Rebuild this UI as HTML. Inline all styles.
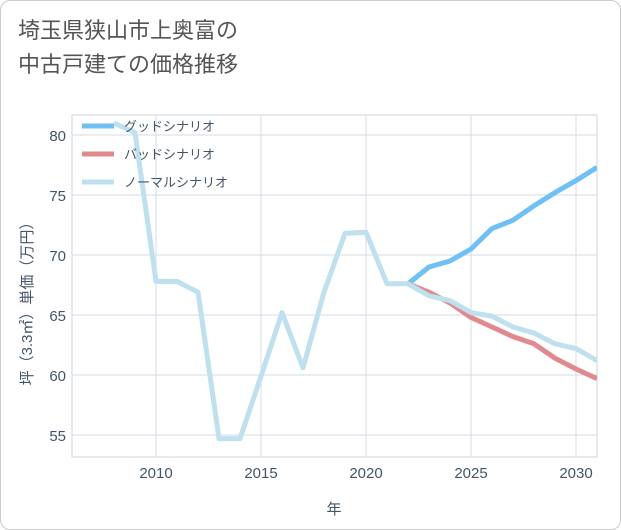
<!DOCTYPE html>
<html><head><meta charset="utf-8"><style>
body{margin:0;background:#fff;}
#wrap{position:relative;width:621px;height:530px;font-family:"Liberation Sans","Noto Sans CJK JP",sans-serif;}
#card{position:absolute;left:0;top:0;width:619px;height:528px;border:1px solid #ccc;border-radius:10px;background:#fff;}
#title{position:absolute;left:18px;top:14px;font-size:22px;line-height:34px;color:#555;}
</style></head><body>
<div id="wrap">
<div id="card"></div>
<div id="title">埼玉県狭山市上奥富の<br>中古戸建ての価格推移</div>
<svg id="chart" width="621" height="530" style="position:absolute;left:0;top:0"></svg>
</div>
<script>
const years=[2008,2009,2010,2011,2012,2013,2014,2015,2016,2017,2018,2019,2020,2021,2022,2023,2024,2025,2026,2027,2028,2029,2030,2031];
const normalVals=[81,80.2,67.8,67.8,66.9,54.7,54.7,59.9,65.2,60.6,66.9,71.8,71.9,67.6,67.6,66.6,66.2,65.2,64.9,64.0,63.5,62.6,62.2,61.2];
const futureYears=[2022,2023,2024,2025,2026,2027,2028,2029,2030,2031];
const goodVals=[67.6,69.0,69.5,70.5,72.2,72.9,74.1,75.2,76.2,77.3];
const badVals=[67.6,66.9,66.0,64.8,64.0,63.2,62.6,61.4,60.5,59.7];
const xTicks=[2010,2015,2020,2025,2030];
const yTicks=[55,60,65,70,75,80];
const legendLabels=["グッドシナリオ","バッドシナリオ","ノーマルシナリオ"];
const L=72,R=597,T=115,B=457;
const x=v=>L+(v-2006)*(R-L)/25;
const y=v=>135+(80-v)*12;
const svg=document.getElementById('chart');
const NS='http://www.w3.org/2000/svg';
function mk(t,a){const e=document.createElementNS(NS,t);for(const k in a)e.setAttribute(k,a[k]);svg.appendChild(e);return e;}
let e=mk('rect',{x:L,y:T,width:R-L,height:B-T,fill:'none',stroke:'#ccd4dc'});


xTicks.forEach(t=>{
 let g=mk('line',{x1:x(t),x2:x(t),y1:T,y2:B,stroke:'#d5dde5'});
 
 
 let l=mk('text',{x:x(t),y:478,'text-anchor':'middle','font-size':15,fill:'#445566'});l.textContent=t;
 
 
});
yTicks.forEach(t=>{
 let g=mk('line',{x1:L,x2:R,y1:y(t),y2:y(t),stroke:'#d5dde5'});
 
 
 let l=mk('text',{x:66,y:y(t)+6,'text-anchor':'end','font-size':15,fill:'#445566'});l.textContent=t;
 
 
});
let xt=mk('text',{x:334,y:514,'text-anchor':'middle','font-size':15,fill:'#445566'});xt.textContent='年';


let yt=mk('text',{x:0,y:0,'text-anchor':'middle','font-size':15,fill:'#445566',transform:'translate(32,300) rotate(-90)'});yt.textContent='坪（3.3㎡）単価（万円）';


const clip=mk('clipPath',{id:'c'});const cr=document.createElementNS(NS,'rect');
cr.setAttribute('x',L);cr.setAttribute('y',T);cr.setAttribute('width',R-L);cr.setAttribute('height',B-T);clip.appendChild(cr);
function line(xs,vs,col,name){
 let p=mk('polyline',{points:xs.map((v,i)=>x(v)+','+y(vs[i])).join(' '),fill:'none',stroke:col,'stroke-width':5,'stroke-linejoin':'round','clip-path':'url(#c)'});
 
 
}
line(futureYears,goodVals,'#6ec0f5','good-scenario-line');
line(futureYears,badVals,'#e08a90','bad-scenario-line');
line(years,normalVals,'#bfe0ee','normal-scenario-line');
const cols=['#6ec0f5','#e08a90','#bfe0ee'];
legendLabels.forEach((s,i)=>{
 let yy=126+i*28;
 let m=mk('line',{x1:82,x2:114,y1:yy,y2:yy,stroke:cols[i],'stroke-width':5});
 
 
 let t=mk('text',{x:124,y:yy+5,'font-size':13,fill:'#445566'});t.textContent=s;
 
 
});
</script>
</body></html>
